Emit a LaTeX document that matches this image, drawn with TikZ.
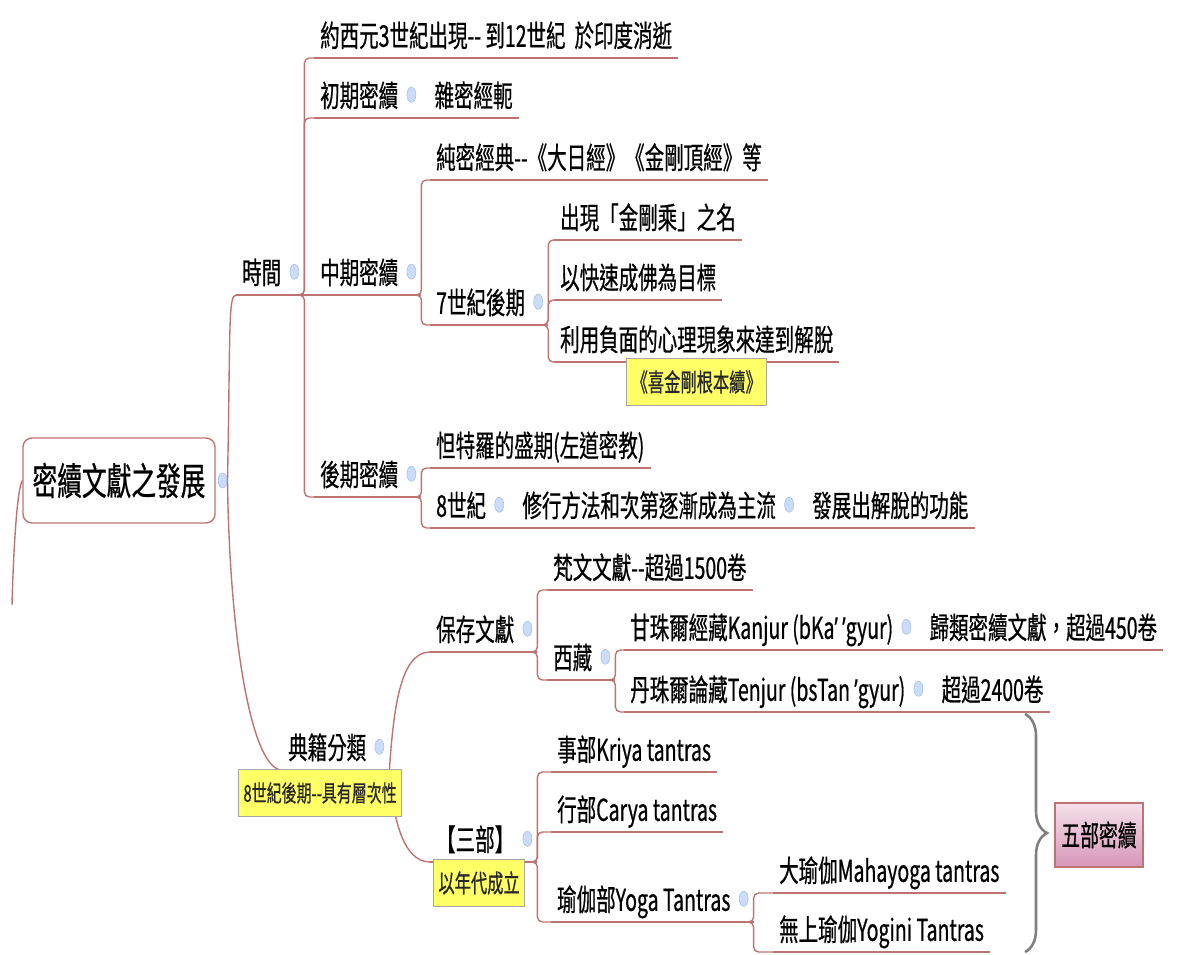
\documentclass[tikz,border=0pt]{standalone}
\usepackage{fontspec}
\newfontfamily\cjk{Noto Sans CJK TC}[FakeStretch=0.65, FakeBold=0.6]
\newfontfamily\lat{Noto Sans}[FakeStretch=0.65, FakeBold=0.6]
\usetikzlibrary{shapes.geometric, decorations.pathreplacing, positioning}
\definecolor{branch}{RGB}{190,115,115}
\definecolor{foldfill}{RGB}{202,220,248}
\definecolor{folddraw}{RGB}{165,192,238}
\definecolor{noteyellow}{RGB}{255,255,102}
\definecolor{pinktop}{RGB}{245,224,234}
\definecolor{pinkbot}{RGB}{214,150,184}
\newcommand\foldgap{\hspace*{17pt}}
\newcommand\ddash{-\kern0pt-}
\newcommand\apos{{\lat ’}}
\tikzset{
  bline/.style={draw=branch, line width=1.4pt},
  topic/.style={anchor=south west, inner xsep=6pt, inner ysep=3pt, text height=26pt, text depth=8pt, font=\cjk\fontsize{30}{34}\selectfont},
  rootbox/.style={draw=branch, line width=1.4pt, rounded corners=9pt, fill=white, minimum width=192pt, minimum height=85pt, font=\cjk\fontsize{38}{42}\selectfont},
  fold/.style={ellipse, draw=folddraw, fill=foldfill, line width=0.6pt, minimum width=9pt, minimum height=15pt, inner sep=0pt},
  note/.style={draw=black!35, fill=noteyellow, line width=0.9pt, inner xsep=5pt, minimum height=47pt, text=black!85, font=\cjk\fontsize{25}{28}\selectfont},
  branchto/.style={bline, rounded corners=5pt, to path={([xshift=-8pt]\tikztostart) -- (\tikztostart) |- (\tikztotarget)}},
  sumbox/.style={draw=branch, line width=1.2pt, top color=pinktop, bottom color=pinkbot, minimum width=88pt, minimum height=64pt, font=\cjk\fontsize{29}{32}\selectfont},
  summary/.style={decorate, decoration={brace, amplitude=22pt}, draw=black!50, line width=2.6pt}
}

\begin{document}
\begin{tikzpicture}[x=1pt, y=1pt]
  \useasboundingbox (0,0) rectangle (1178,954);

  % root
  \node[rootbox] (root) at (119,473.5) {密續文獻之發展};
  \coordinate (rtail) at (12,349);

  % time
  \node[topic] (time) at (236,659) {時間\foldgap};
  \node[topic] (t1) at (314,896) {約西元3世紀出現\ddash{} 到12世紀\hspace{0.3em}於印度消逝};
  \node[topic] (early) at (314,836) {初期密續\foldgap};
  \node[topic] (zami) at ([xshift=7pt]early.south east) {雜密經軛};
  \node[topic] (mid) at (314,659) {中期密續\foldgap};
  \node[topic] (m1) at (430,774) {純密經典\ddash《大日經》《金剛頂經》等};
  \node[topic] (m2) at (430,629) {7世紀後期\foldgap};
  \node[topic] (a1) at (554,714) {出現「金剛乘」之名};
  \node[topic] (a2) at (554,654) {以快速成佛為目標};
  \node[topic] (a3) at (554,592) {利用負面的心理現象來達到解脫};
  \node[topic] (late) at (314,457) {後期密續\foldgap};
  \node[topic] (l1) at (430,486) {怛特羅的盛期(左道密教)};
  \node[topic] (l2) at (430,426) {8世紀\foldgap};
  \node[topic] (l3) at ([xshift=7pt]l2.south east) {修行方法和次第逐漸成為主流\foldgap};
  \node[topic] (l4) at ([xshift=7pt]l3.south east) {發展出解脫的功能};

  % canon
  \node[topic] (canon) at (282,184) {典籍分類\foldgap};
  \node[topic] (keep) at (430,302) {保存文獻\foldgap};
  \node[topic] (k1) at (547,364) {梵文文獻\ddash 超過1500卷};
  \node[topic] (tibet) at (547,274) {西藏\foldgap};
  \node[topic] (kanjur) at (624,304) {甘珠爾經藏Kanjur (bKa\apos{} \apos gyur)\foldgap};
  \node[topic] (kanjur2) at ([xshift=7pt]kanjur.south east) {歸類密續文獻，超過450卷};
  \node[topic] (tenjur) at (624,242) {丹珠爾論藏Tenjur (bsTan \apos gyur)\foldgap};
  \node[topic] (tenjur2) at ([xshift=7pt]tenjur.south east) {超過2400卷};
  \node[topic] (three) at (430,92) {【三部】\foldgap};
  \node[topic] (s1) at (551,182) {事部Kriya tantras};
  \node[topic] (s2) at (551,122) {行部Carya tantras};
  \node[topic] (yoga) at (551,32) {瑜伽部Yoga Tantras\foldgap};
  \node[topic] (y1) at (773,61) {大瑜伽Mahayoga tantras};
  \node[topic] (y2) at (773,2) {無上瑜伽Yogini Tantras};

  % underlines
  \foreach \n in {time,t1,early,zami,mid,m1,m2,a1,a2,a3,late,l1,l2,l3,l4,
                  canon,keep,k1,tibet,kanjur,kanjur2,tenjur,tenjur2,three,s1,s2,yoga,y1,y2}
    \draw[bline] (\n.south west) -- (\n.south east);

  % branches
  \node[fold] (root-f) at ([xshift=7pt]root.east) {};
  \draw[bline] (root-f.east) .. controls +(3,150) and +(-8,0) .. (time.south west);
  \draw[bline] (root-f.east) .. controls +(2,-160) and +(-30,0) .. (canon.south west);
  \draw[bline] (root.west) .. controls +(-6,-10) and +(1,40) .. (rtail);
  \draw[branchto] (time.south east) to (t1.south west);
  \draw[branchto] (time.south east) to (early.south west);
  \draw[bline] (time.south east) -- (mid.south west);
  \draw[branchto] (time.south east) to (late.south west);
  \draw[bline] (early.south east) -- (zami.south west);
  \draw[branchto] (mid.south east) to (m1.south west);
  \draw[branchto] (mid.south east) to (m2.south west);
  \draw[branchto] (m2.south east) to (a1.south west);
  \draw[branchto] (m2.south east) to (a2.south west);
  \draw[branchto] (m2.south east) to (a3.south west);
  \draw[branchto] (late.south east) to (l1.south west);
  \draw[branchto] (late.south east) to (l2.south west);
  \draw[bline] (l2.south east) -- (l3.south west);
  \draw[bline] (l3.south east) -- (l4.south west);
  \draw[bline] (canon.south east) .. controls +(4,60) and +(-30,0) .. (keep.south west);
  \draw[bline] (canon.south east) .. controls +(3,-45) and +(-28,0) .. (three.south west);
  \draw[branchto] (keep.south east) to (k1.south west);
  \draw[branchto] (keep.south east) to (tibet.south west);
  \draw[branchto] (tibet.south east) to (kanjur.south west);
  \draw[branchto] (tibet.south east) to (tenjur.south west);
  \draw[bline] (kanjur.south east) -- (kanjur2.south west);
  \draw[bline] (tenjur.south east) -- (tenjur2.south west);
  \draw[branchto] (three.south east) to (s1.south west);
  \draw[branchto] (three.south east) to (s2.south west);
  \draw[branchto] (three.south east) to (yoga.south west);
  \draw[branchto] (yoga.south east) to (y1.south west);
  \draw[branchto] (yoga.south east) to (y2.south west);

  % fold marks
  \foreach \n in {time,early,mid,m2,late,l2,l3,canon,keep,tibet,kanjur,tenjur,three,yoga}
    \node[fold] (\n-f) at ([xshift=-10pt,yshift=3pt]\n.east) {};

  % notes
  \node[note, anchor=north] (c1) at ([yshift=4pt]a3.south) {《喜金剛根本續》};
  \node[note, anchor=north west, font=\cjk\fontsize{23}{26}\selectfont] (c2) at (238,185) {8世紀後期\ddash 具有層次性};
  \node[note, anchor=north west] (c3) at (433,95) {以年代成立};

  % summary
  \coordinate (sumtop) at (1025,240);
  \coordinate (sumbot) at (1025,2);
  \draw[summary] (sumtop) -- (sumbot);
  \node[sumbox] (five) at (1099,119) {五部密續};
\end{tikzpicture}
\end{document}
